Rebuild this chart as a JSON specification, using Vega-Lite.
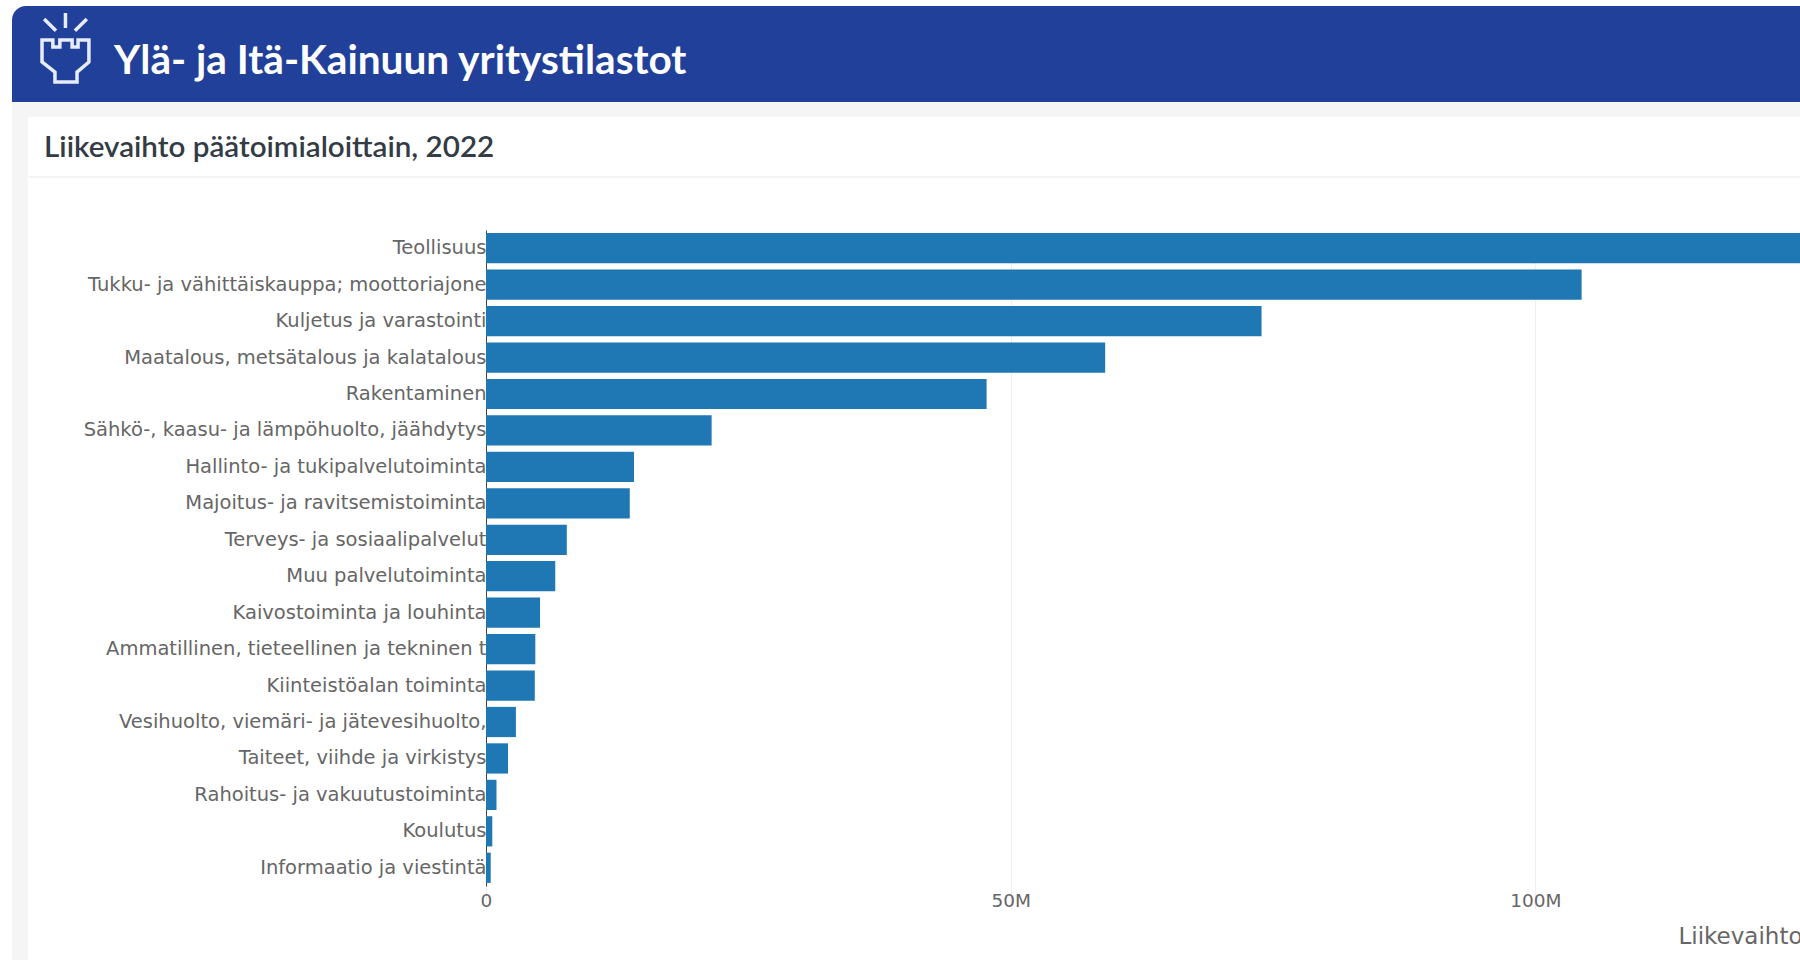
{
  "$schema": "https://vega.github.io/schema/vega-lite/v6.json",
  "background": "#ffffff",
  "padding": {"left": 12, "top": 6, "right": 0, "bottom": 4},
  "config": {"view": {"stroke": null}, "concat": {"spacing": 0}},
  "spacing": 0,
  "bounds": "flush",
  "vconcat": [
    {
      "width": 1788,
      "height": 96,
      "data": {"values": [{"otsikko": "Ylä- ja Itä-Kainuun yritystilastot"}]},
      "encoding": {
        "x": {"datum": 0, "type": "quantitative", "scale": {"domain": [0, 1]}, "axis": null},
        "y": {"datum": 0, "type": "quantitative", "scale": {"domain": [0, 1]}, "axis": null}
      },
      "layer": [
        {
          "mark": {"type": "rect", "color": "#21409a", "cornerRadiusTopLeft": 14},
          "encoding": {"x": {"datum": 0}, "x2": {"datum": 1}, "y": {"datum": 0}, "y2": {"datum": 1}}
        },
        {
          "mark": {
            "type": "point",
            "filled": false,
            "stroke": "#e6ecfa",
            "strokeWidth": 3.5,
            "size": 4900,
            "opacity": 1,
            "shape": "M0,-1V-.57M-.61,-.83L-.27,-.49M.61,-.83L.27,-.49M-.67,-.23H-.36V-.03H-.16V-.23H.19V-.03H.36V-.23H.67V.4L.33,.69V.97H-.3V.69L-.67,.4Z"
          },
          "encoding": {"x": {"datum": 0.0299}, "y": {"datum": 0.5625}}
        },
        {
          "mark": {"type": "text", "align": "left", "baseline": "middle", "font": "Lato", "fontWeight": 700, "fontSize": 40.6, "color": "#ffffff"},
          "encoding": {"x": {"datum": 0.0571}, "y": {"datum": 0.42}, "text": {"field": "otsikko"}}
        }
      ]
    },
    {
      "width": 1788,
      "height": 15,
      "view": {"fill": "#f5f5f6"},
      "data": {"values": []},
      "mark": "rect",
      "encoding": {}
    },
    {
      "hconcat": [
        {
          "width": 16,
          "height": 843,
          "view": {"fill": "#f5f5f6"},
          "data": {"values": []},
          "mark": "rect",
          "encoding": {}
        },
        {
          "vconcat": [
            {
              "width": 1772,
              "height": 60,
              "view": {"fill": "#ffffff"},
              "data": {"values": [{"otsikko": "Liikevaihto päätoimialoittain, 2022"}]},
              "encoding": {
                "x": {"datum": 0, "type": "quantitative", "scale": {"domain": [0, 1]}, "axis": null},
                "y": {"datum": 0, "type": "quantitative", "scale": {"domain": [0, 1]}, "axis": null}
              },
              "layer": [
                {
                  "mark": {"type": "rule", "color": "#e9e9ec", "strokeWidth": 1},
                  "encoding": {"y": {"datum": 0}, "x": {"datum": 0}, "x2": {"datum": 1}}
                },
                {
                  "mark": {"type": "text", "align": "left", "baseline": "middle", "font": "Lato", "fontWeight": 600, "fontSize": 29.6, "color": "#333b45"},
                  "encoding": {"x": {"datum": 0.0085}, "y": {"datum": 0.48}, "text": {"field": "otsikko"}}
                }
              ]
            },
            {
              "width": 1772,
              "height": 783,
              "view": {"fill": "#ffffff"},
              "data": {
                "values": [
                  {"toimiala": "Teollisuus", "liikevaihto": 130000000},
                  {"toimiala": "Tukku- ja vähittäiskauppa; moottoriajone", "liikevaihto": 104400000},
                  {"toimiala": "Kuljetus ja varastointi", "liikevaihto": 73900000},
                  {"toimiala": "Maatalous, metsätalous ja kalatalous", "liikevaihto": 59000000},
                  {"toimiala": "Rakentaminen", "liikevaihto": 47700000},
                  {"toimiala": "Sähkö-, kaasu- ja lämpöhuolto, jäähdytys", "liikevaihto": 21500000},
                  {"toimiala": "Hallinto- ja tukipalvelutoiminta", "liikevaihto": 14100000},
                  {"toimiala": "Majoitus- ja ravitsemistoiminta", "liikevaihto": 13700000},
                  {"toimiala": "Terveys- ja sosiaalipalvelut", "liikevaihto": 7700000},
                  {"toimiala": "Muu palvelutoiminta", "liikevaihto": 6600000},
                  {"toimiala": "Kaivostoiminta ja louhinta", "liikevaihto": 5150000},
                  {"toimiala": "Ammatillinen, tieteellinen ja tekninen t", "liikevaihto": 4700000},
                  {"toimiala": "Kiinteistöalan toiminta", "liikevaihto": 4650000},
                  {"toimiala": "Vesihuolto, viemäri- ja jätevesihuolto,\u00a0\u2009", "liikevaihto": 2850000},
                  {"toimiala": "Taiteet, viihde ja virkistys", "liikevaihto": 2100000},
                  {"toimiala": "Rahoitus- ja vakuutustoiminta", "liikevaihto": 1000000},
                  {"toimiala": "Koulutus", "liikevaihto": 600000},
                  {"toimiala": "Informaatio ja viestintä", "liikevaihto": 450000}
                ]
              },
              "mark": {"type": "bar", "color": "#1f77b4", "clip": true},
              "encoding": {
                "x": {
                  "field": "liikevaihto",
                  "type": "quantitative",
                  "scale": {"domain": [0, 125400000], "range": [457, 1773], "nice": false},
                  "axis": {
                    "values": [0, 50000000, 100000000],
                    "format": ".2~s",
                    "offset": -73,
                    "domain": false,
                    "ticks": false,
                    "labelPadding": 3,
                    "labelFont": "DejaVu Sans",
                    "labelFontSize": 18.5,
                    "labelColor": "#666666",
                    "labelFlush": false,
                    "grid": true,
                    "gridColor": "#eeeeee",
                    "gridWidth": 1,
                    "title": "Liikevaihto",
                    "titleFont": "DejaVu Sans",
                    "titleFontSize": 23,
                    "titleFontWeight": 400,
                    "titleColor": "#666666",
                    "titleAnchor": "end",
                    "titlePadding": 16
                  }
                },
                "y": {
                  "field": "toimiala",
                  "type": "nominal",
                  "sort": null,
                  "scale": {"range": [52, 708], "paddingInner": 0.17, "paddingOuter": 0.085},
                  "axis": {
                    "offset": -457,
                    "title": null,
                    "domain": true,
                    "domainColor": "#444444",
                    "domainWidth": 1,
                    "ticks": false,
                    "labelPadding": 0,
                    "labelLimit": 0,
                    "labelFont": "DejaVu Sans",
                    "labelFontSize": 19.5,
                    "labelColor": "#666666"
                  }
                }
              }
            }
          ]
        }
      ]
    }
  ]
}
